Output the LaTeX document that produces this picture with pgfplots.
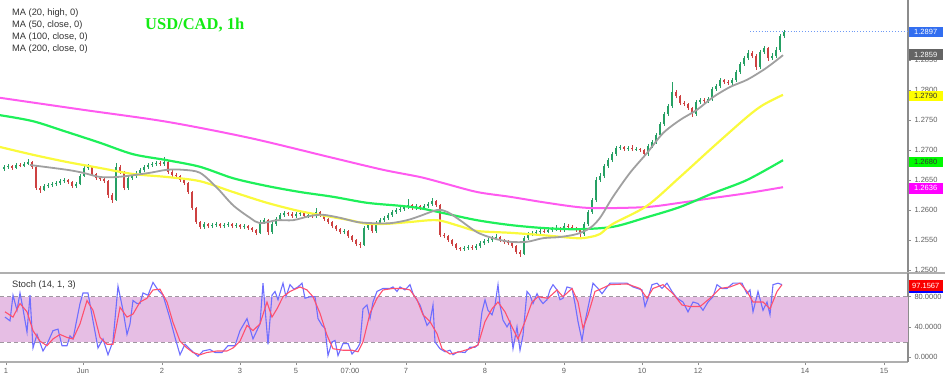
\documentclass[border=0pt]{standalone}
\usepackage{pgfplots}
\pgfplotsset{compat=1.18}
\usepackage{pgfplotstable}
\usepackage{fontspec}
\setmainfont{Liberation Sans}
\newfontfamily\titlefont{Liberation Serif}
\definecolor{cup}{RGB}{38,160,100}
\definecolor{cdn}{RGB}{205,65,65}
\definecolor{maA}{RGB}{160,160,160}
\definecolor{maB}{RGB}{250,250,60}
\definecolor{maC}{RGB}{30,240,90}
\definecolor{maD}{RGB}{255,90,240}
\definecolor{axgray}{RGB}{140,140,140}
\definecolor{sepgray}{RGB}{175,175,175}
\definecolor{lblgray}{RGB}{95,95,95}
\definecolor{txtdark}{RGB}{50,50,50}
\definecolor{kblue}{RGB}{110,110,255}
\definecolor{dred}{RGB}{255,80,110}
\definecolor{band}{RGB}{230,190,228}
\definecolor{dashc}{RGB}{160,150,160}
\definecolor{tagblue}{RGB}{50,110,240}
\definecolor{taggray}{RGB}{100,100,100}
\definecolor{tagyel}{RGB}{255,255,0}
\definecolor{taggreen}{RGB}{0,250,0}
\definecolor{tagmag}{RGB}{255,0,255}
\definecolor{tagred}{RGB}{250,0,0}
\definecolor{titlegreen}{RGB}{20,235,20}

% rising candles: x open high low close
\pgfplotstableread{
x o h l c
4 1.2668 1.2675 1.2665 1.2672
8 1.2672 1.2676 1.2669 1.2673
16 1.2670 1.2678 1.2668 1.2675
24 1.2673 1.2680 1.2671 1.2677
28 1.2677 1.2685 1.2675 1.2680
44 1.2633 1.2643 1.2631 1.2640
48 1.2640 1.2645 1.2637 1.2642
52 1.2642 1.2646 1.2639 1.2643
56 1.2643 1.2648 1.2640 1.2645
60 1.2645 1.2651 1.2642 1.2648
64 1.2648 1.2653 1.2645 1.2650
76 1.2640 1.2646 1.2637 1.2643
80 1.2643 1.2660 1.2641 1.2657
84 1.2657 1.2674 1.2655 1.2670
88 1.2670 1.2676 1.2667 1.2672
116 1.2617 1.2678 1.2615 1.2672
128 1.2637 1.2656 1.2634 1.2653
132 1.2653 1.2660 1.2650 1.2657
136 1.2657 1.2665 1.2654 1.2662
140 1.2662 1.2670 1.2659 1.2667
144 1.2667 1.2675 1.2664 1.2672
148 1.2672 1.2678 1.2669 1.2675
152 1.2675 1.2680 1.2672 1.2677
156 1.2677 1.2681 1.2674 1.2678
164 1.2677 1.2688 1.2674 1.2680
204 1.2572 1.2580 1.2569 1.2577
212 1.2573 1.2578 1.2570 1.2575
216 1.2575 1.2580 1.2572 1.2577
224 1.2573 1.2578 1.2570 1.2575
228 1.2575 1.2580 1.2572 1.2577
236 1.2573 1.2578 1.2570 1.2575
244 1.2572 1.2576 1.2569 1.2573
260 1.2562 1.2583 1.2560 1.2580
264 1.2580 1.2587 1.2577 1.2583
272 1.2563 1.2580 1.2560 1.2577
276 1.2577 1.2588 1.2574 1.2585
280 1.2585 1.2595 1.2582 1.2592
284 1.2592 1.2598 1.2589 1.2595
296 1.2590 1.2596 1.2587 1.2593
300 1.2593 1.2598 1.2590 1.2595
308 1.2590 1.2595 1.2587 1.2592
316 1.2590 1.2603 1.2587 1.2597
344 1.2563 1.2568 1.2560 1.2565
364 1.2542 1.2573 1.2540 1.2570
368 1.2570 1.2580 1.2567 1.2577
376 1.2565 1.2581 1.2562 1.2578
380 1.2578 1.2586 1.2575 1.2583
384 1.2583 1.2590 1.2580 1.2587
388 1.2587 1.2595 1.2584 1.2592
392 1.2592 1.2600 1.2589 1.2597
396 1.2597 1.2603 1.2594 1.2600
400 1.2600 1.2605 1.2597 1.2602
404 1.2602 1.2608 1.2599 1.2605
408 1.2605 1.2618 1.2602 1.2608
416 1.2603 1.2610 1.2600 1.2607
424 1.2603 1.2610 1.2600 1.2607
428 1.2607 1.2613 1.2604 1.2610
432 1.2610 1.2620 1.2607 1.2615
464 1.2535 1.2540 1.2532 1.2537
468 1.2537 1.2541 1.2534 1.2538
476 1.2537 1.2543 1.2534 1.2540
480 1.2540 1.2548 1.2537 1.2545
484 1.2545 1.2551 1.2542 1.2548
488 1.2548 1.2553 1.2545 1.2550
492 1.2550 1.2556 1.2547 1.2553
496 1.2553 1.2560 1.2550 1.2555
524 1.2527 1.2556 1.2525 1.2553
528 1.2553 1.2563 1.2550 1.2560
532 1.2560 1.2565 1.2557 1.2562
536 1.2562 1.2566 1.2559 1.2563
540 1.2563 1.2568 1.2560 1.2565
548 1.2564 1.2570 1.2561 1.2567
552 1.2567 1.2571 1.2564 1.2568
556 1.2568 1.2575 1.2565 1.2570
564 1.2567 1.2578 1.2564 1.2573
584 1.2560 1.2580 1.2557 1.2577
588 1.2577 1.2600 1.2574 1.2597
592 1.2597 1.2620 1.2594 1.2617
596 1.2617 1.2655 1.2614 1.2650
600 1.2650 1.2662 1.2647 1.2657
604 1.2657 1.2677 1.2654 1.2673
608 1.2673 1.2687 1.2670 1.2683
612 1.2683 1.2697 1.2680 1.2693
616 1.2693 1.2706 1.2690 1.2703
620 1.2703 1.2708 1.2700 1.2705
628 1.2702 1.2706 1.2699 1.2703
636 1.2701 1.2705 1.2698 1.2702
648 1.2693 1.2710 1.2690 1.2707
652 1.2707 1.2716 1.2704 1.2713
656 1.2713 1.2728 1.2710 1.2725
660 1.2725 1.2746 1.2722 1.2743
664 1.2743 1.2764 1.2740 1.2760
668 1.2760 1.2777 1.2757 1.2773
672 1.2773 1.2813 1.2770 1.2797
696 1.2760 1.2783 1.2757 1.2780
700 1.2780 1.2786 1.2777 1.2783
708 1.2782 1.2788 1.2779 1.2785
712 1.2785 1.2805 1.2782 1.2802
716 1.2802 1.2810 1.2799 1.2807
720 1.2807 1.2820 1.2804 1.2817
732 1.2812 1.2820 1.2809 1.2817
736 1.2817 1.2833 1.2814 1.2830
740 1.2830 1.2846 1.2827 1.2843
744 1.2843 1.2857 1.2840 1.2853
748 1.2853 1.2866 1.2850 1.2862
760 1.2838 1.2867 1.2835 1.2863
764 1.2863 1.2873 1.2860 1.2870
772 1.2853 1.2861 1.2850 1.2857
776 1.2857 1.2871 1.2854 1.2867
780 1.2867 1.2893 1.2864 1.2890
784 1.2890 1.2900 1.2887 1.2897
}\upc

% falling candles: x open high low close
\pgfplotstableread{
x o h l c
12 1.2673 1.2675 1.2667 1.2670
20 1.2675 1.2678 1.2671 1.2673
32 1.2680 1.2682 1.2669 1.2672
36 1.2672 1.2674 1.2634 1.2637
40 1.2637 1.2640 1.2629 1.2633
68 1.2650 1.2652 1.2644 1.2647
72 1.2647 1.2649 1.2637 1.2640
92 1.2672 1.2674 1.2657 1.2660
96 1.2660 1.2662 1.2650 1.2653
100 1.2653 1.2656 1.2649 1.2652
104 1.2652 1.2655 1.2645 1.2648
108 1.2648 1.2650 1.2620 1.2625
112 1.2625 1.2628 1.2612 1.2617
120 1.2672 1.2675 1.2660 1.2663
124 1.2663 1.2665 1.2633 1.2637
160 1.2678 1.2681 1.2674 1.2677
168 1.2680 1.2682 1.2660 1.2663
172 1.2663 1.2666 1.2655 1.2658
176 1.2658 1.2661 1.2654 1.2657
180 1.2657 1.2659 1.2647 1.2650
184 1.2650 1.2652 1.2642 1.2645
188 1.2645 1.2647 1.2627 1.2630
192 1.2630 1.2632 1.2600 1.2603
196 1.2603 1.2605 1.2577 1.2580
200 1.2580 1.2582 1.2569 1.2572
208 1.2577 1.2579 1.2570 1.2573
220 1.2577 1.2579 1.2570 1.2573
232 1.2577 1.2579 1.2570 1.2573
240 1.2575 1.2577 1.2569 1.2572
248 1.2573 1.2575 1.2567 1.2570
252 1.2570 1.2572 1.2564 1.2567
256 1.2567 1.2569 1.2558 1.2562
268 1.2583 1.2585 1.2558 1.2563
288 1.2595 1.2597 1.2590 1.2593
292 1.2593 1.2596 1.2587 1.2590
304 1.2595 1.2597 1.2587 1.2590
312 1.2592 1.2595 1.2587 1.2590
320 1.2597 1.2599 1.2589 1.2592
324 1.2592 1.2594 1.2582 1.2585
328 1.2585 1.2587 1.2577 1.2580
332 1.2580 1.2582 1.2570 1.2573
336 1.2573 1.2575 1.2565 1.2568
340 1.2568 1.2570 1.2560 1.2563
348 1.2565 1.2567 1.2554 1.2557
352 1.2557 1.2559 1.2547 1.2550
356 1.2550 1.2552 1.2540 1.2543
360 1.2543 1.2546 1.2537 1.2542
372 1.2577 1.2579 1.2562 1.2565
412 1.2608 1.2610 1.2600 1.2603
420 1.2607 1.2609 1.2600 1.2603
436 1.2615 1.2617 1.2605 1.2608
440 1.2608 1.2610 1.2555 1.2558
444 1.2558 1.2561 1.2553 1.2557
448 1.2557 1.2559 1.2547 1.2550
452 1.2550 1.2552 1.2540 1.2543
456 1.2543 1.2545 1.2534 1.2537
460 1.2537 1.2539 1.2532 1.2535
472 1.2538 1.2541 1.2534 1.2537
500 1.2555 1.2557 1.2547 1.2550
504 1.2550 1.2552 1.2544 1.2547
508 1.2547 1.2550 1.2542 1.2545
512 1.2545 1.2547 1.2537 1.2540
516 1.2540 1.2542 1.2526 1.2530
520 1.2530 1.2533 1.2522 1.2527
544 1.2565 1.2568 1.2561 1.2564
560 1.2570 1.2572 1.2564 1.2567
568 1.2573 1.2576 1.2569 1.2572
572 1.2572 1.2575 1.2567 1.2570
576 1.2570 1.2572 1.2564 1.2567
580 1.2567 1.2569 1.2555 1.2560
624 1.2705 1.2707 1.2699 1.2702
632 1.2703 1.2708 1.2699 1.2701
640 1.2702 1.2704 1.2697 1.2700
644 1.2700 1.2702 1.2688 1.2693
676 1.2797 1.2800 1.2786 1.2790
680 1.2790 1.2792 1.2775 1.2778
684 1.2778 1.2781 1.2774 1.2777
688 1.2777 1.2779 1.2767 1.2770
692 1.2770 1.2772 1.2755 1.2760
704 1.2783 1.2786 1.2779 1.2782
724 1.2817 1.2819 1.2810 1.2813
728 1.2813 1.2816 1.2809 1.2812
752 1.2862 1.2865 1.2853 1.2857
756 1.2857 1.2860 1.2834 1.2838
768 1.2870 1.2872 1.2849 1.2853
}\dnc

\begin{document}
\begin{tikzpicture}[font=\fontsize{7.5}{9}\selectfont]
\useasboundingbox (0,0) rectangle (950pt,378pt);
% ---------------- main price panel ----------------
\begin{axis}[
  at={(0pt,105pt)}, anchor=south west,
  scale only axis, width=908pt, height=273pt,
  xmin=0, xmax=908, ymin=1.2495, ymax=1.2950,
  axis x line=none, axis y line*=right,
  y axis line style={draw=axgray, line width=1.2pt, -},
  ytick={1.25,1.255,1.26,1.265,1.27,1.275,1.28,1.285},
  yticklabels={1.2500,1.2550,1.2600,1.2650,1.2700,1.2750,1.2800,1.2850},
  yticklabel style={font=\fontsize{7.5}{9}\selectfont, text=lblgray},
  tick align=outside, major tick length=3pt,
  tick style={draw=axgray, line width=0.6pt},
  clip mode=individual,
]
% wicks
\addplot[cup, line width=0.8pt, mark=none, forget plot,
  quiver={u=0, v=\thisrow{h}-\thisrow{l}}]
  table[x=x, y=l] {\upc};
\addplot[cdn, line width=0.8pt, mark=none, forget plot,
  quiver={u=0, v=\thisrow{h}-\thisrow{l}}]
  table[x=x, y=l] {\dnc};
% bodies
\addplot[cup, line width=2.6pt, mark=none, forget plot,
  quiver={u=0, v=\thisrow{c}-\thisrow{o}}]
  table[x=x, y=o] {\upc};
\addplot[cdn, line width=2.6pt, mark=none, forget plot,
  quiver={u=0, v=\thisrow{o}-\thisrow{c}}]
  table[x=x, y=c] {\dnc};
% MA 200
\addplot[maD, line width=2pt, smooth, mark=none] coordinates {
(0,1.2787) (83,1.2767) (167,1.2747) (250,1.2720) (330,1.2688) (383,1.2667)
(420,1.2655) (443,1.2645) (477,1.2630) (510,1.2622) (543,1.2613) (577,1.2605)
(600,1.2603) (647,1.2605) (680,1.2612) (713,1.2620) (747,1.2628) (783,1.2638)};
% MA 100
\addplot[maC, line width=2.2pt, smooth, mark=none] coordinates {
(0,1.2758) (33,1.2748) (67,1.2730) (100,1.2712) (133,1.2693) (167,1.2683)
(200,1.2672) (233,1.2653) (267,1.2640) (300,1.2630) (333,1.2622) (367,1.2612)
(400,1.2607) (420,1.2603) (443,1.2595) (477,1.2583) (510,1.2575) (543,1.2570)
(577,1.2568) (613,1.2572) (647,1.2588) (680,1.2605) (713,1.2628) (747,1.2650) (783,1.2683)};
% MA 50
\addplot[maB, line width=2.2pt, smooth, mark=none] coordinates {
(0,1.2705) (33,1.2692) (67,1.2680) (100,1.2670) (133,1.2660) (167,1.2655)
(200,1.2648) (233,1.2630) (267,1.2612) (300,1.2598) (333,1.2588) (350,1.2583)
(367,1.2577) (387,1.2577) (410,1.2580) (437,1.2583) (460,1.2573) (477,1.2565)
(510,1.2562) (543,1.2558) (577,1.2553) (590,1.2555) (600,1.2560) (613,1.2577)
(647,1.2607) (680,1.2655) (713,1.2705) (747,1.2755) (763,1.2775) (783,1.2792)};
% MA 20
\addplot[maA, line width=1.8pt, smooth, mark=none] coordinates {
(30,1.2675) (67,1.2667) (83,1.2662) (100,1.2655) (117,1.2655) (133,1.2658)
(150,1.2662) (167,1.2667) (183,1.2667) (200,1.2662) (217,1.2637) (233,1.2608)
(250,1.2587) (260,1.2578) (277,1.2583) (293,1.2583) (310,1.2590) (323,1.2592)
(340,1.2587) (357,1.2580) (373,1.2578) (390,1.2578) (407,1.2583) (420,1.2590)
(437,1.2600) (447,1.2597) (460,1.2583) (477,1.2563) (493,1.2553) (510,1.2547)
(527,1.2547) (543,1.2553) (560,1.2555) (577,1.2560) (590,1.2570) (600,1.2587)
(613,1.2622) (630,1.2662) (647,1.2695) (663,1.2728) (680,1.2750) (697,1.2767)
(713,1.2788) (730,1.2805) (747,1.2817) (763,1.2833) (773,1.2845) (783,1.2858)};
% last price line
\draw[tagblue!70, dotted, line width=0.9pt] (axis cs:750,1.2897) -- (axis cs:908,1.2897);
% separator
\draw[sepgray, line width=2pt] (rel axis cs:0,0) -- ([xshift=37pt]rel axis cs:1,0);
% price tags
\tikzset{tag/.style={anchor=west, inner sep=1pt, minimum width=34pt, minimum height=10.5pt, font=\fontsize{7.5}{9}\selectfont}}
\node[tag, fill=tagblue, text=white] at (axis cs:908.5,1.2897) {1.2897};
\node[tag, fill=taggray, text=white] at (axis cs:908.5,1.2859) {1.2859};
\node[tag, fill=tagyel, text=txtdark] at (axis cs:908.5,1.2790) {1.2790};
\node[tag, fill=taggreen, text=txtdark] at (axis cs:908.5,1.2680) {1.2680};
\node[tag, fill=tagmag, text=white] at (axis cs:908.5,1.2636) {1.2636};
\end{axis}
% ---------------- stochastic panel ----------------
\begin{axis}[
  at={(0pt,16pt)}, anchor=south west,
  scale only axis, width=908pt, height=89pt,
  xmin=0, xmax=908, ymin=-6.6, ymax=111.5,
  axis x line*=bottom, axis y line*=right,
  x axis line style={draw=sepgray, line width=1.2pt, -},
  y axis line style={draw=axgray, line width=1.2pt, -},
  xtick={6,83,162,240,296,350,406,485,564,642,698,805,884},
  xticklabels={1,Jun,2,3,5,07:00,7,8,9,10,12,14,15},
  ytick={0,40,80}, yticklabels={0.0000,40.0000,80.0000},
  ticklabel style={font=\fontsize{7.5}{9}\selectfont, text=lblgray},
  tick align=outside, major tick length=3pt,
  tick style={draw=axgray, line width=0.6pt},
  clip mode=individual,
]
\addplot[fill=band, draw=none, forget plot] coordinates {(0,20) (908,20) (908,80) (0,80)} -- cycle;
\addplot[dashc, dash pattern=on 4pt off 3pt, line width=0.8pt, forget plot] coordinates {(0,20) (908,20)};
\addplot[dashc, dash pattern=on 4pt off 3pt, line width=0.8pt, forget plot] coordinates {(0,80) (908,80)};
% %K
\addplot[kblue, line width=1.1pt, mark=none] coordinates {
(5,53) (10,48) (13,82) (17,62) (20,85) (23,64) (27,33) (30,82) (33,12) (37,30) (43,8) (47,17)
(53,35) (58,37) (62,15) (67,15) (70,28) (73,24) (80,71) (83,85) (88,85) (93,48) (98,12) (103,24)
(108,3) (113,21) (118,94) (123,62) (127,30) (130,44) (133,75) (137,71) (140,71) (143,85) (148,82)
(153,99) (158,89) (163,82) (170,51) (175,26) (180,3) (185,17) (192,8) (198,1) (203,8) (210,10)
(215,6) (222,6) (228,15) (235,15) (240,35) (247,51) (253,24) (260,44) (263,98) (268,17) (272,82)
(275,87) (278,76) (283,98) (286,80) (290,96) (294,90) (298,93) (302,98) (305,78) (310,80) (315,80)
(318,51) (322,42) (325,38) (328,2) (332,20) (335,22) (338,2) (343,18) (348,18) (352,4) (357,11)
(360,18) (363,64) (367,69) (370,51) (373,73) (377,87) (383,91) (390,91) (393,93) (397,87) (400,93)
(405,89) (410,96) (413,84) (420,69) (427,42) (430,47) (433,69) (435,20) (440,11) (445,7) (450,9)
(453,3) (458,7) (465,6) (470,13) (475,13) (478,16) (482,60) (485,76) (488,62) (492,56) (495,69)
(498,96) (500,69) (503,49) (507,40) (510,47) (513,11) (517,40) (520,9) (523,29) (527,87) (530,82)
(533,71) (537,84) (540,76) (543,71) (547,76) (550,89) (553,96) (557,89) (560,76) (563,78) (567,93)
(572,91) (575,71) (578,47) (582,22) (585,47) (590,78) (593,98) (598,91) (602,84) (607,93) (610,98)
(617,98) (627,98) (633,93) (642,89) (645,67) (648,78) (652,96) (657,98) (662,91) (667,98) (672,87)
(677,78) (683,73) (688,60) (693,73) (698,71) (703,62) (708,73) (713,80) (717,96) (722,91) (727,91)
(733,98) (742,98) (747,84) (750,89) (753,60) (758,87) (763,62) (767,73) (770,56) (773,96) (778,98) (782,96)};
% %D
\addplot[dred, line width=1.1pt, mark=none] coordinates {
(5,60) (13,53) (20,71) (27,60) (33,35) (40,21) (47,15) (53,24) (60,30) (67,26) (73,24) (80,44)
(87,75) (93,62) (100,26) (107,17) (113,17) (120,66) (127,53) (133,57) (140,73) (147,78) (153,89)
(160,90) (167,73) (173,46) (180,21) (187,12) (193,6) (200,3) (207,6) (217,8) (227,8) (233,12)
(240,21) (247,42) (253,35) (260,44) (267,73) (272,53) (277,64) (283,80) (290,87) (300,93) (307,89)
(313,80) (320,58) (327,29) (333,11) (343,9) (352,9) (358,7) (363,20) (370,58) (377,78) (383,89)
(393,91) (403,91) (410,89) (417,76) (423,56) (430,47) (437,31) (442,11) (450,4) (460,7) (470,11)
(478,16) (485,47) (492,64) (498,73) (505,60) (512,40) (518,24) (525,47) (532,73) (538,80) (548,78)
(557,89) (563,80) (572,91) (578,73) (583,38) (588,56) (595,87) (602,91) (610,96) (627,97) (640,91)
(647,78) (653,91) (663,96) (673,84) (682,69) (690,67) (700,67) (710,78) (720,91) (730,93) (740,98)
(747,87) (753,73) (763,73) (770,64) (777,87) (782,96)};
\tikzset{tag/.style={anchor=west, inner sep=1pt, minimum width=34pt, minimum height=10.5pt, font=\fontsize{7.5}{9}\selectfont}}
\node[tag, fill=blue] at (axis cs:908.5,92) {};
\node[tag, fill=tagred, text=white] at (axis cs:908.5,95) {97.1567};
\end{axis}
% ---------------- texts ----------------
\begin{scope}[every node/.style={anchor=west, inner sep=0pt, text=txtdark, font=\fontsize{9.3}{11}\selectfont}]
\node at (12pt,365pt) {MA (20, high, 0)};
\node at (12pt,353pt) {MA (50, close, 0)};
\node at (12pt,341pt) {MA (100, close, 0)};
\node at (12pt,329pt) {MA (200, close, 0)};
\node at (12pt,93pt) {Stoch (14, 1, 3)};
\end{scope}
\node[anchor=west, inner sep=0pt, text=titlegreen, font=\titlefont\bfseries\fontsize{16.5}{18}\selectfont] at (145pt,353pt) {USD/CAD, 1h};
\end{tikzpicture}
\end{document}
